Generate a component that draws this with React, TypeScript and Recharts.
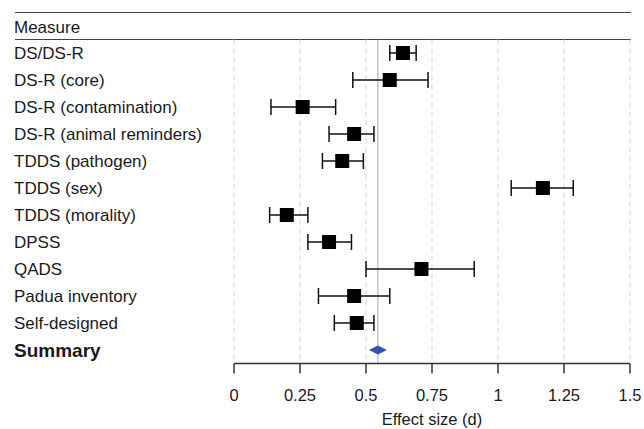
import {
  ScatterChart,
  Scatter,
  XAxis,
  YAxis,
  CartesianGrid,
  ReferenceLine,
  ErrorBar,
} from "recharts";

const measures = [
  "DS/DS-R",
  "DS-R (core)",
  "DS-R (contamination)",
  "DS-R (animal reminders)",
  "TDDS (pathogen)",
  "TDDS (sex)",
  "TDDS (morality)",
  "DPSS",
  "QADS",
  "Padua inventory",
  "Self-designed",
];
const estimates = [0.64, 0.59, 0.26, 0.455, 0.41, 1.17, 0.2, 0.36, 0.71, 0.455, 0.465];
const lowers = [0.59, 0.45, 0.14, 0.36, 0.335, 1.05, 0.135, 0.28, 0.5, 0.32, 0.38];
const uppers = [0.69, 0.735, 0.385, 0.53, 0.49, 1.285, 0.28, 0.445, 0.91, 0.59, 0.53];
const summaryLabel = "Summary";
const summaryEstimate = 0.545;
const xTicks = [0, 0.25, 0.5, 0.75, 1, 1.25, 1.5];

const rowLabels = [...measures, summaryLabel];

const studyRows = measures.map((name, i) => ({
  row: i,
  name,
  d: estimates[i],
  err: [estimates[i] - lowers[i], uppers[i] - estimates[i]],
}));
const summaryRows = [{ row: measures.length, name: summaryLabel, d: summaryEstimate }];

const FONT = "'Liberation Sans', Arial, sans-serif";
const TEXT = "#1a1a1a";
const RULE = "#34484a";

function RowTick(props: any) {
  const { y, payload } = props;
  const label = rowLabels[payload.value] ?? "";
  const bold = label === summaryLabel;
  return (
    <text
      x={14}
      y={y}
      dy="0.36em"
      textAnchor="start"
      fill={TEXT}
      fontSize={bold ? 19 : 17}
      fontWeight={bold ? 700 : 400}
      fontFamily={FONT}
    >
      {label}
    </text>
  );
}

function Square(props: any) {
  const { cx, cy } = props;
  return <rect x={cx - 7} y={cy - 7} width={14} height={14} fill="#000" />;
}

function Diamond(props: any) {
  const { cx, cy } = props;
  return (
    <polygon
      points={`${cx - 9},${cy} ${cx},${cy - 4.5} ${cx + 9},${cy} ${cx},${cy + 4.5}`}
      fill="#3551b4"
    />
  );
}

export default function App() {
  return (
    <div
      style={{
        position: "absolute",
        left: 0,
        top: 0,
        width: 644,
        height: 429,
        background: "#fff",
        fontFamily: FONT,
      }}
    >
      <div style={{ position: "absolute", left: 15, top: 12, width: 616, height: 0, borderTop: `1.5px solid ${RULE}` }} />
      <div
        style={{
          position: "absolute",
          left: 14,
          top: 18,
          fontSize: 17,
          color: TEXT,
          lineHeight: "20px",
        }}
      >
        Measure
      </div>
      <div style={{ position: "absolute", left: 15, top: 39, width: 616, height: 0, borderTop: `1.5px solid ${RULE}` }} />
      <ScatterChart
        width={644}
        height={429}
        margin={{ top: 39.5, right: 14, bottom: 0, left: 14 }}
      >
        <CartesianGrid horizontal={false} stroke="#c9d5df" strokeDasharray="5 4" />
        <XAxis
          type="number"
          dataKey="d"
          domain={[0, 1.5]}
          ticks={xTicks}
          interval={0}
          height={65.5}
          tickSize={10}
          tickMargin={16}
          stroke="#333"
          strokeWidth={1.5}
          tick={{ fill: TEXT, fontSize: 16.5, fontFamily: FONT }}
          tickFormatter={(v: number) => String(v)}
          label={{
            value: "Effect size (d)",
            position: "insideBottom",
            offset: 4,
            fill: TEXT,
            fontSize: 16.5,
            fontFamily: FONT,
          }}
        />
        <YAxis
          type="number"
          dataKey="row"
          domain={[-0.5, rowLabels.length - 0.5]}
          ticks={rowLabels.map((_, i) => i)}
          interval={0}
          reversed
          width={220}
          axisLine={false}
          tickLine={false}
          tick={<RowTick />}
        />
        <ReferenceLine x={summaryEstimate} stroke="#a8a8a8" strokeWidth={1} />
        <Scatter data={studyRows} shape={<Square />} isAnimationActive={false}>
          <ErrorBar dataKey="err" direction="x" width={8} stroke="#111" strokeWidth={1.5} />
        </Scatter>
        <Scatter data={summaryRows} shape={<Diamond />} isAnimationActive={false} />
      </ScatterChart>
    </div>
  );
}
